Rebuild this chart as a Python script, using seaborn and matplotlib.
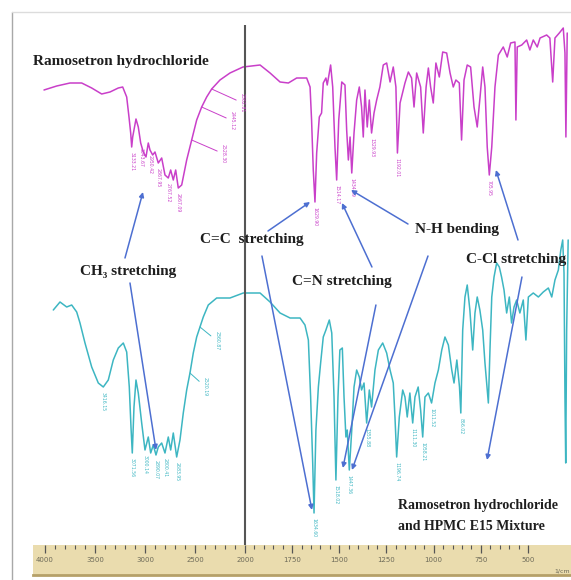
import matplotlib
matplotlib.use("Agg")
import matplotlib.pyplot as plt
import matplotlib.transforms as mtransforms
from matplotlib.lines import Line2D
import numpy as np
import seaborn as sns

# upper trace: Ramosetron hydrochloride (wavenumber 1/cm, offset transmittance a.u.)
RAMO_WN = [4010, 3883, 3750, 3633, 3533, 3433, 3350, 3267, 3223, 3183, 3160, 3143, 3133, 3123,
           3090, 3067, 3043, 3017, 2990, 2967, 2950, 2923, 2900, 2867, 2833, 2800, 2767, 2743,
           2717, 2693, 2667, 2633, 2583, 2533, 2483, 2433, 2383, 2333, 2250, 2150, 2020, 1920,
           1867, 1814, 1770, 1726, 1673, 1655, 1647, 1638, 1629, 1620, 1606, 1594, 1585, 1571,
           1564, 1546, 1535, 1523, 1514, 1503, 1487, 1470, 1461, 1452, 1443, 1434, 1422, 1408,
           1394, 1382, 1373, 1364, 1352, 1341, 1329, 1316, 1302, 1285, 1267, 1249, 1231, 1214,
           1200, 1192, 1178, 1152, 1134, 1117, 1104, 1090, 1069, 1055, 1040, 1028, 1016, 1002,
           988, 970, 952, 931, 913, 896, 882, 864, 852, 839, 822, 804, 786, 769, 754, 740, 728,
           716, 705, 692, 675, 657, 631, 610, 592, 569, 564, 557, 533, 507, 490, 472, 451, 436,
           401, 384, 369, 357, 334, 313, 304, 299, 292]
RAMO_T = [455, 459, 462, 462, 457, 451, 453, 457, 458, 448, 428, 412, 398, 408,
          426, 418, 402, 393, 388, 402, 395, 390, 393, 382, 387, 370, 367, 375,
          365, 375, 357, 360, 385, 405, 425, 438, 448, 456, 465, 472, 478, 480,
          472, 463, 462, 467, 467, 458, 425, 375, 343, 392, 428, 432, 462, 467,
          460, 480, 458, 398, 365, 425, 463, 460, 415, 385, 408, 372, 412, 445,
          458, 438, 408, 455, 418, 445, 412, 432, 445, 458, 480, 482, 463, 478,
          458, 392, 442, 462, 473, 467, 438, 472, 458, 412, 458, 477, 458, 442,
          482, 468, 493, 492, 472, 458, 465, 462, 405, 465, 480, 478, 438, 418, 448, 478, 458,
          398, 370, 398, 458, 490, 498, 488, 502, 503, 425, 498, 500, 505, 495, 505, 498, 507,
          510, 507, 463, 507, 512, 517, 492, 408, 512]

# lower trace: Ramosetron hydrochloride + HPMC E15 mixture
MIX_WN = [3917, 3850, 3783, 3733, 3683, 3650, 3600, 3533, 3467, 3417, 3367, 3317, 3267, 3217,
          3183, 3157, 3140, 3127, 3110, 3090, 3067, 3033, 3000, 2967, 2943, 2917, 2890, 2867,
          2833, 2800, 2767, 2743, 2717, 2683, 2650, 2617, 2583, 2550, 2517, 2483, 2450, 2417,
          2367, 2283, 2150, 2017, 1920, 1867, 1814, 1761, 1708, 1682, 1664, 1652, 1641, 1634,
          1624, 1611, 1599, 1585, 1571, 1553, 1540, 1528, 1518, 1507, 1497, 1484, 1475, 1465,
          1458, 1447, 1434, 1422, 1408, 1394, 1382, 1369, 1355, 1341, 1329, 1311, 1293, 1270,
          1249, 1231, 1214, 1205, 1196, 1182, 1164, 1152, 1140, 1126, 1111, 1099, 1082, 1069,
          1058, 1046, 1028, 1011, 993, 975, 957, 940, 922, 904, 892, 877, 863, 856, 846, 834,
          822, 808, 793, 781, 769, 755, 740, 728, 719, 710, 701, 692, 680, 666, 652, 640, 627,
          613, 599, 587, 574, 560, 543, 525, 511, 498, 472, 445, 419, 392, 374, 357, 339, 326,
          316, 309, 304, 300, 295, 287]
MIX_T = [235, 243, 238, 240, 233, 222, 202, 178, 162, 158, 165, 185, 197, 202,
         193, 158, 118, 92, 138, 165, 152, 122, 95, 108, 92, 100, 90, 98,
         102, 92, 108, 95, 112, 88, 105, 132, 155, 172, 192, 208, 218, 228,
         240, 247, 247, 252, 252, 243, 232, 227, 227, 220, 205, 148, 82, 32,
         115, 158, 182, 208, 215, 225, 212, 148, 65, 148, 195, 197, 148, 108,
         115, 75, 115, 158, 175, 168, 155, 162, 122, 155, 138, 175, 195, 202,
         192, 175, 162, 128, 88, 128, 155, 148, 128, 152, 122, 148, 158, 135,
         108, 148, 152, 142, 162, 175, 195, 208, 200, 175, 162, 185, 158, 132, 215, 248,
         260, 235, 195, 232, 248, 235, 215, 182, 162, 142, 198, 248, 268, 282, 278, 268, 255,
         232, 248, 222, 238, 245, 232, 245, 205, 248, 252, 248, 253, 257, 248, 265, 275, 295,
         305, 272, 148, 82, 215, 305]

# peak picks printed under the dips
RAMO_PEAKS = [3133, 3043, 2950, 2867, 2767, 2667, 1629, 1514, 1434, 1329, 1192, 705]
RAMO_PEAK_LABELS = ["3133.21", "3043.67", "2950.42", "2867.95", "2767.52", "2667.09",
                    "1629.90", "1514.17", "1434.09", "1329.93", "1192.01", "705.95"]
MIX_PEAKS = [3417, 3127, 3000, 2890, 2800, 2683, 1634, 1518, 1447, 1355, 1196,
             1111, 1058, 1011, 856]
MIX_PEAK_LABELS = ["3416.15", "3071.56", "3000.14", "2890.07", "2800.41", "2683.95",
                   "1634.60", "1518.02", "1447.36", "1355.88", "1196.74", "1111.30",
                   "1058.21", "1011.52", "856.02"]
# shoulder picks with leader lines (curve point, label position)
RAMO_SHOULDERS = [2333, 2433, 2533]
RAMO_SHOULDER_POS = [2030, 2130, 2220]
RAMO_SHOULDER_LABELS = ["2362.81", "2445.12", "2528.30"]
MIX_SHOULDERS = [2450, 2550]
MIX_SHOULDER_POS = [2283, 2400]
MIX_SHOULDER_LABELS = ["2360.87", "2520.19"]

MAJOR_TICKS = [4000, 3500, 3000, 2500, 2000, 1750, 1500, 1250, 1000, 750, 500]

MAGENTA = "#c93fc9"
CYAN = "#3db6c2"
ARROW = "#4d6fd1"
SERIF = ["Liberation Serif", "DejaVu Serif"]


def forward(w):
    # instrument scale: 2x expanded below 2000 1/cm
    w = np.asarray(w, dtype=float)
    return np.where(w >= 2000, w, 2000 - (2000 - w) * 1.887)


def inverse(u):
    u = np.asarray(u, dtype=float)
    return np.where(u >= 2000, u, 2000 - (2000 - u) / 1.887)


def label_peaks(ax, wn, t, peaks, labels, color):
    lookup = dict(zip(wn, t))
    for w, txt in zip(peaks, labels):
        ax.text(w, lookup[w] - 5, txt, rotation=270, ha="center", va="top",
                fontsize=3.3, color=color, family="DejaVu Sans")


def label_shoulders(ax, wn, t, points, positions, labels, color):
    lookup = dict(zip(wn, t))
    for w, pos, txt in zip(points, positions, labels):
        v = lookup[w]
        ax.annotate(txt, xy=(w, v), xytext=(pos, v - 4), rotation=270,
                    ha="center", va="top", fontsize=3.3, color=color,
                    family="DejaVu Sans",
                    arrowprops=dict(arrowstyle="-", color=color, lw=0.7,
                                    shrinkA=0, shrinkB=0))


sns.set_theme(style="white")
fig = plt.figure(figsize=(5.71, 5.80), dpi=100)

ax = fig.add_axes([33 / 571, 35 / 580, 538 / 571, 520 / 580])
ax.set_xscale("function", functions=(forward, inverse))
sns.lineplot(x=RAMO_WN, y=RAMO_T, ax=ax, color=MAGENTA, lw=1.1, sort=False,
             estimator=None, legend=False)
sns.lineplot(x=MIX_WN, y=MIX_T, ax=ax, color=CYAN, lw=1.1, sort=False,
             estimator=None, legend=False)
ax.set_xlim(4120, 272)
ax.set_ylim(0, 520)
ax.axvline(2000, color="#555555", lw=1.5)
ax.set_axis_off()

label_peaks(ax, RAMO_WN, RAMO_T, RAMO_PEAKS, RAMO_PEAK_LABELS, MAGENTA)
label_peaks(ax, MIX_WN, MIX_T, MIX_PEAKS, MIX_PEAK_LABELS, CYAN)
label_shoulders(ax, RAMO_WN, RAMO_T, RAMO_SHOULDERS, RAMO_SHOULDER_POS,
                RAMO_SHOULDER_LABELS, MAGENTA)
label_shoulders(ax, MIX_WN, MIX_T, MIX_SHOULDERS, MIX_SHOULDER_POS,
                MIX_SHOULDER_LABELS, CYAN)

# band assignments
texts = [
    (4115, 483, "Ramosetron hydrochloride", 11),
    (2450, 305, "C=C  stretching", 11),
    (3650, 273, "CH\u2083 stretching", 11),
    (1751, 263, "C=N stretching", 11),
    (1099, 315, "N-H bending", 11),
    (829, 285, "C-Cl stretching", 11),
    (1189, 40, "Ramosetron hydrochloride", 10),
    (1189, 19, "and HPMC E15 Mixture", 10),
]
for x, y, s, size in texts:
    ax.text(x, y, s, ha="left", va="center", fontsize=size, fontweight="bold",
            family=SERIF, color="#1e1e1e")

arrows = [
    ((3200, 287), (3020, 353)),
    ((3150, 262), (2890, 95)),
    ((1878, 314), (1655, 343)),
    ((1910, 289), (1645, 35)),
    ((1327, 278), (1486, 342)),
    ((1306, 240), (1481, 77)),
    ((1136, 321), (1438, 355)),
    ((1030, 289), (1433, 75)),
    ((553, 305), (670, 375)),
    ((532, 268), (717, 85)),
]
for start, end in arrows:
    ax.annotate("", xy=end, xytext=start,
                arrowprops=dict(arrowstyle="-|>", color=ARROW, lw=1.1,
                                mutation_scale=7, shrinkA=0, shrinkB=0))

# wavenumber ruler
ax_r = fig.add_axes([33 / 571, 5 / 580, 538 / 571, 30 / 580])
ax_r.set_xscale("function", functions=(forward, inverse))
ax_r.set_xlim(4120, 272)
ax_r.set_ylim(0, 1)
ax_r.set_facecolor("#eadcae")
ax_r.set_xticks(MAJOR_TICKS)
minor = [v for v in list(np.arange(4000, 2000, -100)) + list(np.arange(2000, 450, -50))
         if v not in MAJOR_TICKS]
ax_r.set_xticks(minor, minor=True)
ax_r.set_yticks([])
ax_r.tick_params(axis="x", which="both", top=True, bottom=False, direction="in",
                 labeltop=False, labelbottom=False, color="#555555")
ax_r.tick_params(axis="x", which="major", length=6, width=0.9)
ax_r.tick_params(axis="x", which="minor", length=3, width=0.8)
for side in ["left", "right", "top"]:
    ax_r.spines[side].set_visible(False)
ax_r.spines["bottom"].set_color("#b5a068")
ax_r.spines["bottom"].set_linewidth(2)
trans = mtransforms.blended_transform_factory(ax_r.transData, ax_r.transAxes)
for t in MAJOR_TICKS:
    ax_r.text(t, 0.5, str(t), transform=trans, ha="center", va="center",
              fontsize=5, color="#6d6a58", family="DejaVu Sans")
ax_r.text(318, 0.13, "1/cm", transform=trans, ha="center", va="center",
          fontsize=4.5, color="#6d6a58", family="DejaVu Sans")

# outer frame
fig.add_artist(Line2D([12 / 571, 12 / 571], [0, 1 - 12 / 580], color="#a8a8a8", lw=1))
fig.add_artist(Line2D([12 / 571, 1], [1 - 12 / 580, 1 - 12 / 580], color="#dcdcdc", lw=1))

fig.savefig("out.png", dpi=100)
